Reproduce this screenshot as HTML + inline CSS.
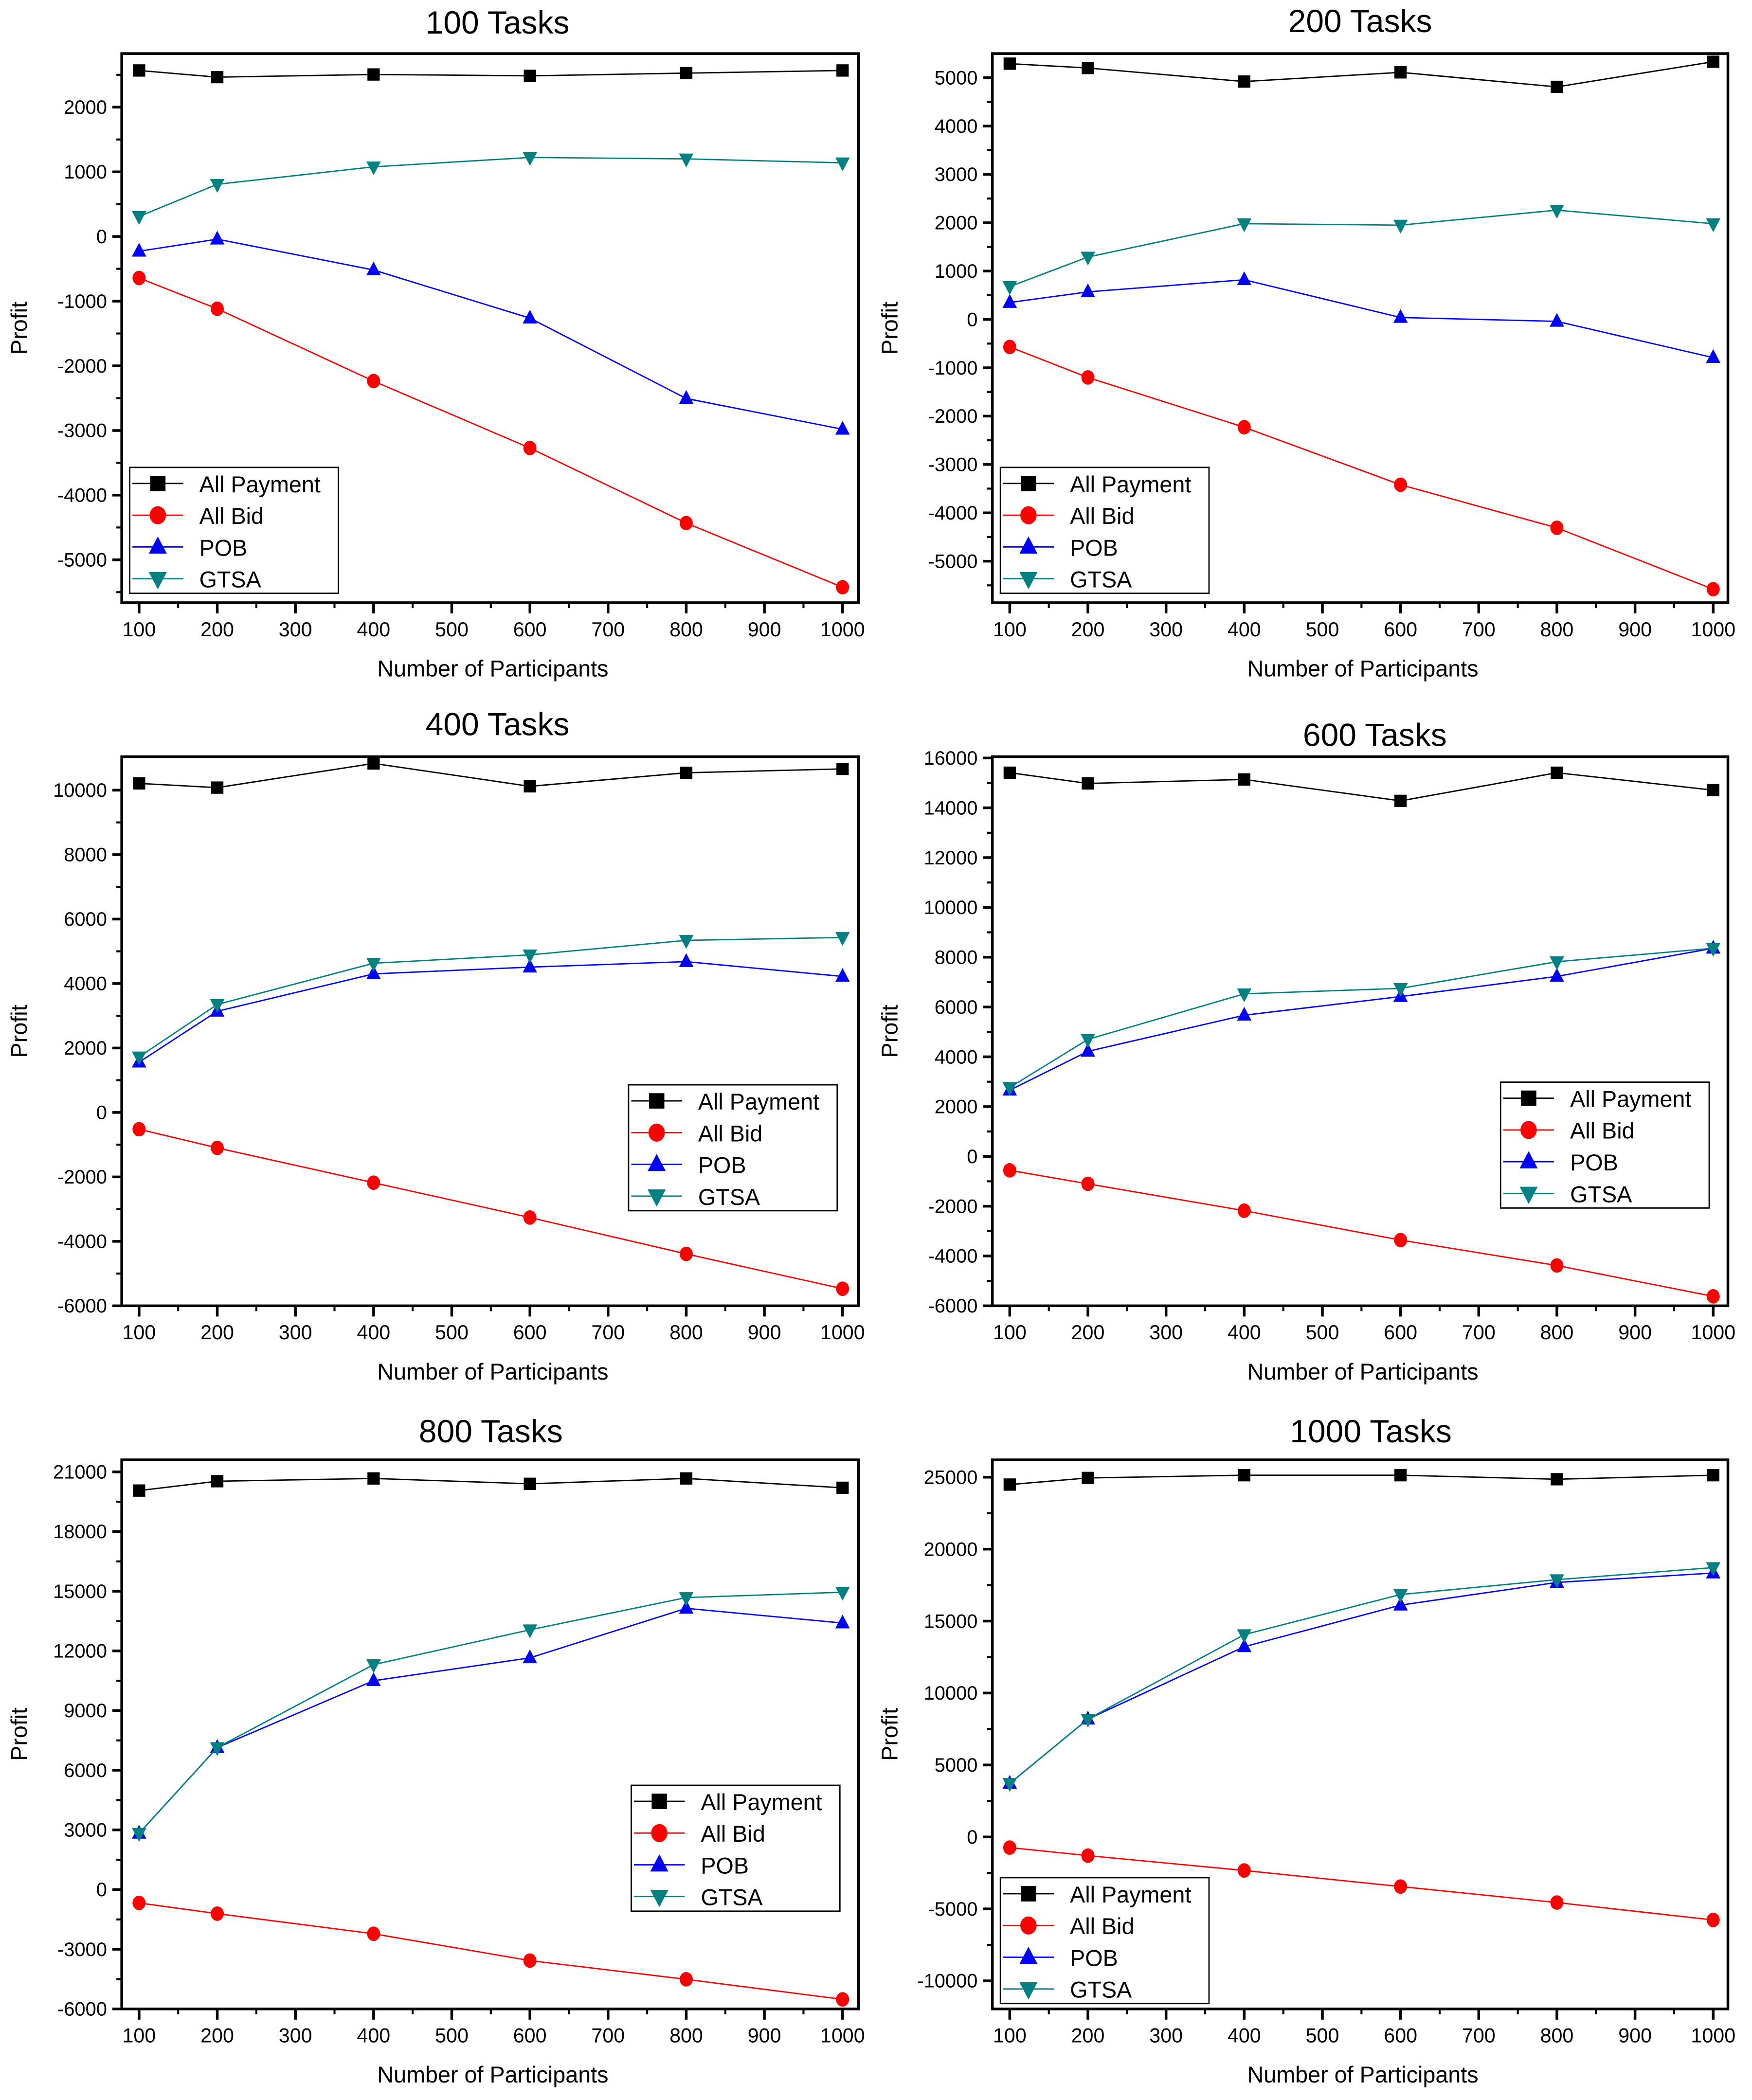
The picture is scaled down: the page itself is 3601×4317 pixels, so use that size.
<!DOCTYPE html>
<html><head><meta charset="utf-8"><style>
html,body{margin:0;padding:0;background:#fff;}
svg{display:block;font-family:"Liberation Sans",Arial,sans-serif;}
</style></head><body>
<svg id="fig" width="3601" height="4317" viewBox="0 0 1310 1568" preserveAspectRatio="none" xmlns="http://www.w3.org/2000/svg"></svg>
<script>
const categories = [100, 200, 400, 600, 800, 1000];
const seriesNames = ["All Payment", "All Bid", "POB", "GTSA"];
const panelTitles = ["100 Tasks", "200 Tasks", "400 Tasks", "600 Tasks", "800 Tasks", "1000 Tasks"];
const allPayment100 = [2567, 2464, 2505, 2484, 2526, 2567];
const allBid100 = [-642, -1118, -2236, -3271, -4431, -5424];
const pob100 = [-228, -41, -518, -1263, -2505, -2981];
const gtsa100 = [310, 807, 1077, 1222, 1200, 1139];
const allPayment200 = [5290, 5200, 4920, 5110, 4810, 5330];
const allBid200 = [-570, -1200, -2230, -3420, -4310, -5580];
const pob200 = [350, 570, 820, 40, -40, -790];
const gtsa200 = [680, 1290, 1980, 1950, 2260, 1980];
const allPayment400 = [10210, 10080, 10830, 10120, 10540, 10660];
const allBid400 = [-520, -1100, -2180, -3260, -4390, -5470];
const pob400 = [1560, 3140, 4300, 4510, 4680, 4220];
const gtsa400 = [1725, 3350, 4630, 4890, 5340, 5430];
const allPayment600 = [15410, 14980, 15140, 14280, 15410, 14710];
const allBid600 = [-560, -1100, -2180, -3360, -4380, -5620];
const pob600 = [2660, 4220, 5670, 6420, 7230, 8360];
const gtsa600 = [2770, 4700, 6530, 6750, 7820, 8360];
const allPayment800 = [20060, 20530, 20670, 20400, 20670, 20200];
const allBid800 = [-670, -1210, -2220, -3570, -4510, -5520];
const pob800 = [2830, 7140, 10500, 11650, 14140, 13400];
const gtsa800 = [2830, 7140, 11310, 13060, 14680, 14950];
const allPayment1000 = [24490, 24950, 25140, 25140, 24860, 25140];
const allBid1000 = [-740, -1300, -2330, -3450, -4560, -5770];
const pob1000 = [3720, 8190, 13220, 16110, 17690, 18340];
const gtsa1000 = [3720, 8190, 14060, 16850, 17880, 18720];
const xTickLabels = [100, 200, 300, 400, 500, 600, 700, 800, 900, 1000];
const yTicks100 = [-5000, -4000, -3000, -2000, -1000, 0, 1000, 2000];
const yTicks200 = [-5000, -4000, -3000, -2000, -1000, 0, 1000, 2000, 3000, 4000, 5000];
const yTicks400 = [-6000, -4000, -2000, 0, 2000, 4000, 6000, 8000, 10000];
const yTicks600 = [-6000, -4000, -2000, 0, 2000, 4000, 6000, 8000, 10000, 12000, 14000, 16000];
const yTicks800 = [-6000, -3000, 0, 3000, 6000, 9000, 12000, 15000, 18000, 21000];
const yTicks1000 = [-10000, -5000, 0, 5000, 10000, 15000, 20000, 25000];

const NS = "http://www.w3.org/2000/svg";
const svg = document.getElementById("fig");
const colors = ["#000000", "#ff0000", "#0000ff", "#008080"];
const markers = ["square", "circle", "up", "down"];

function el(tag, attrs, parent) {
  const e = document.createElementNS(NS, tag);
  for (const k in attrs) e.setAttribute(k, attrs[k]);
  (parent || svg).appendChild(e);
  return e;
}
function txt(s, attrs, parent) {
  const t = el("text", attrs, parent);
  t.textContent = s;
  return t;
}
function marker(kind, cx, cy, color, g, k) {
  k = k || 1;
  let m;
  const s = 5.4 * k;
  if (kind === "square") m = el("rect", {x: cx - 4.6 * k, y: cy - 4.6 * k, width: 9.2 * k, height: 9.2 * k, fill: color}, g);
  else if (kind === "circle") m = el("ellipse", {cx: cx, cy: cy, rx: 4.9 * k, ry: 5.4 * k, fill: color}, g);
  else if (kind === "up") m = el("polygon", {points: `${cx},${cy - 6.3 * k} ${cx + s},${cy + 4 * k} ${cx - s},${cy + 4 * k}`, fill: color}, g);
  else m = el("polygon", {points: `${cx},${cy + 6.3 * k} ${cx + s},${cy - 4 * k} ${cx - s},${cy - 4 * k}`, fill: color}, g);
  return m;
}

const panels = [
  {title: 0, fx0: 91, fx1: 642, fy0: 40, fy1: 450, xa: 104, xb: 630, ya: [2000, 80], yb: [-5000, 418], ticks: yTicks100, minor: 500, titleX: 372, titleY: 25, data: [allPayment100, allBid100, pob100, gtsa100], leg: [97, 349]},
  {title: 1, fx0: 742, fx1: 1292, fy0: 40, fy1: 450, xa: 755, xb: 1281, ya: [5000, 58], yb: [-5000, 419], ticks: yTicks200, minor: 500, titleX: 1017, titleY: 24, data: [allPayment200, allBid200, pob200, gtsa200], leg: [748, 349]},
  {title: 2, fx0: 91, fx1: 642, fy0: 565, fy1: 975, xa: 104, xb: 630, ya: [10000, 590], yb: [-6000, 975], ticks: yTicks400, minor: 1000, titleX: 372, titleY: 549, data: [allPayment400, allBid400, pob400, gtsa400], leg: [470, 810]},
  {title: 3, fx0: 742, fx1: 1292, fy0: 565, fy1: 975, xa: 755, xb: 1281, ya: [16000, 566], yb: [-6000, 975], ticks: yTicks600, minor: 1000, titleX: 1028, titleY: 557, data: [allPayment600, allBid600, pob600, gtsa600], leg: [1122, 808]},
  {title: 4, fx0: 91, fx1: 642, fy0: 1090, fy1: 1500, xa: 104, xb: 630, ya: [21000, 1099], yb: [-6000, 1500], ticks: yTicks800, minor: 1500, titleX: 367, titleY: 1077, data: [allPayment800, allBid800, pob800, gtsa800], leg: [472, 1333]},
  {title: 5, fx0: 742, fx1: 1292, fy0: 1090, fy1: 1500, xa: 755, xb: 1281, ya: [25000, 1103], yb: [-10000, 1479], ticks: yTicks1000, minor: 2500, titleX: 1025, titleY: 1077, data: [allPayment1000, allBid1000, pob1000, gtsa1000], leg: [748, 1402]}
];

panels.forEach((p, pi) => {
  const g = el("g", {});
  
  
  const X = v => p.xa + (v - 100) * (p.xb - p.xa) / 900;
  const Y = v => p.ya[1] + (v - p.ya[0]) * (p.yb[1] - p.ya[1]) / (p.yb[0] - p.ya[0]);

  const title = txt(panelTitles[p.title], {x: p.titleX, y: p.titleY, "font-size": 24, "text-anchor": "middle"}, g);
  
  

  const frame = el("rect", {x: p.fx0, y: p.fy0, width: p.fx1 - p.fx0, height: p.fy1 - p.fy0, fill: "none", stroke: "#000", "stroke-width": 2}, g);
  
  

  const xg = el("g", {}, g);
  
  
  xTickLabels.forEach(v => {
    el("line", {x1: X(v), x2: X(v), y1: p.fy1, y2: p.fy1 + 8, stroke: "#000", "stroke-width": 2}, xg);
    if (v < 1000) el("line", {x1: X(v + 50), x2: X(v + 50), y1: p.fy1, y2: p.fy1 + 4, stroke: "#000", "stroke-width": 1.5}, xg);
    const t = txt(String(v), {x: X(v), y: p.fy1 + 25, "font-size": 15, "text-anchor": "middle"}, xg);
    
    
  });
  const xt = txt("Number of Participants", {x: (p.fx0 + p.fx1) / 2 + 2, y: p.fy1 + 55, "font-size": 17, "text-anchor": "middle"}, g);
  
  

  const yg = el("g", {}, g);
  
  
  p.ticks.forEach((v, i) => {
    el("line", {x1: p.fx0 - 7, x2: p.fx0, y1: Y(v), y2: Y(v), stroke: "#000", "stroke-width": 2}, yg);
    const mv = v + p.minor;
    if (Y(mv) > p.fy0 + 1) el("line", {x1: p.fx0 - 4, x2: p.fx0, y1: Y(mv), y2: Y(mv), stroke: "#000", "stroke-width": 1.5}, yg);
    if (i === 0 && Y(v - p.minor) < p.fy1 - 1) el("line", {x1: p.fx0 - 4, x2: p.fx0, y1: Y(v - p.minor), y2: Y(v - p.minor), stroke: "#000", "stroke-width": 1.5}, yg);
    const t = txt(String(v), {x: p.fx0 - 11, y: Y(v) + 5, "font-size": 14.5, "text-anchor": "end"}, yg);
    
    
  });
  const yx = p.fx0 - 71, yy = (p.fy0 + p.fy1) / 2;
  const yt = txt("Profit", {x: yx, y: yy, "font-size": 17, "text-anchor": "middle", transform: `rotate(-90 ${yx} ${yy})`}, g);
  
  

  p.data.forEach((arr, si) => {
    const sg = el("g", {}, g);
    
    
    const pts = arr.map((v, i) => `${X(categories[i])},${Y(v)}`).join(" ");
    el("polyline", {points: pts, fill: "none", stroke: colors[si], "stroke-width": 1}, sg);
    arr.forEach((v, i) => {
      const m = marker(markers[si], X(categories[i]), Y(v), colors[si], sg);
      
      
    });
  });

  const lx = p.leg[0], ly = p.leg[1];
  const lg = el("g", {}, g);
  
  
  el("rect", {x: lx, y: ly, width: 156, height: 94, fill: "#fff", stroke: "#000", "stroke-width": 1}, lg);
  seriesNames.forEach((n, si) => {
    const cy = ly + 12 + si * 23.7;
    const e = el("g", {}, lg);
    
    
    el("line", {x1: lx + 2, x2: lx + 40, y1: cy, y2: cy, stroke: colors[si], "stroke-width": 1}, e);
    marker(markers[si], lx + 21, cy, colors[si], e, 1.25);
    txt(n, {x: lx + 52, y: cy + 6.5, "font-size": 17}, e);
  });
});
</script>
</body></html>
